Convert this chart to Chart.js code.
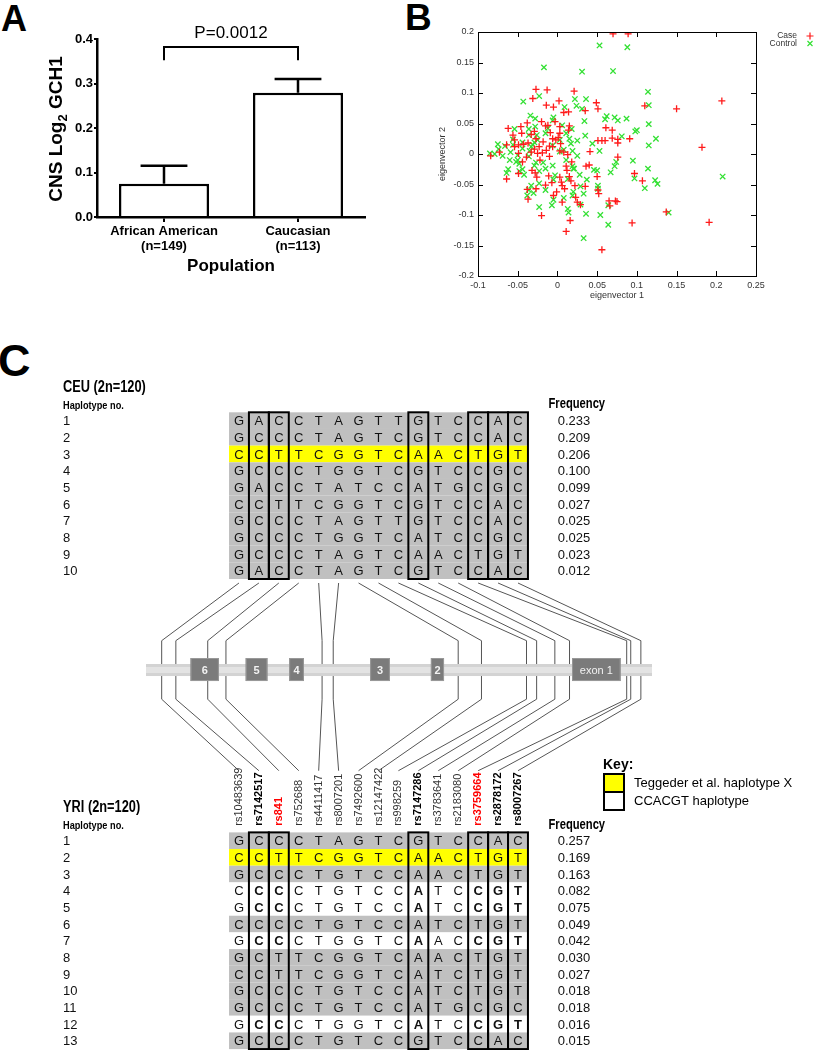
<!DOCTYPE html>
<html>
<head>
<meta charset="utf-8">
<script src="https://cdn.jsdelivr.net/npm/chart.js@4.4.1/dist/chart.umd.min.js"></script>
<style>
  body { margin: 0; background: #fff; width: 815px; height: 1050px; overflow: hidden; position: relative; font-family: "Liberation Sans", Arial, sans-serif; }
  canvas { position: absolute; }
  .panel { position: absolute; font-weight: bold; line-height: 1; color: #000; }
</style>
</head>
<body>
<div class="panel" style="left:1px;top:1px;font-size:36px">A</div>
<div class="panel" style="left:405px;top:-1px;font-size:37px">B</div>
<div class="panel" style="left:-2px;top:338px;font-size:45px">C</div>
<canvas id="chartA" width="400" height="280" style="left:0;top:0"></canvas>
<canvas id="chartB" width="415" height="310" style="left:400px;top:0"></canvas>
<canvas id="chartC" width="815" height="720" style="left:0;top:330px"></canvas>
<script>
// ---------- Panel A data ----------
const popLabels = [['African American', '(n=149)'], ['Caucasian', '(n=113)']];
const gchMean = [0.075, 0.279];
const gchSem = [0.040, 0.031];
const pText = 'P=0.0012';

// ---------- Panel B data (eigenvector 1 / eigenvector 2) ----------
const caseEv1 = [0.070,0.089,0.207,0.150,0.182,0.191,0.137,0.094,0.110,0.091,0.076,0.069,0.069,0.061,0.076,0.076,0.073,0.075,0.065,0.066,
  0.097,0.107,0.052,0.051,0.050,0.035,0.036,0.040,0.041,0.051,0.056,0.060,0.051,0.049,0.035,0.021,0.002,-0.005,-0.014,-0.013,
  -0.027,-0.031,-0.046,-0.038,-0.062,-0.056,-0.020,-0.015,-0.012,-0.003,0.014,0.008,0.015,0.014,0.003,0.003,0.001,-0.002,0.004,0.008,
  0.003,0.013,0.011,0.012,0.003,0.005,0.006,0.009,0.006,0.011,0.016,0.015,0.017,0.022,0.023,0.025,0.029,0.018,-0.001,-0.005,
  -0.007,-0.011,-0.020,-0.015,-0.026,-0.027,-0.038,-0.037,-0.028,-0.032,-0.049,-0.064,-0.084,-0.073,-0.064,-0.054,-0.054,-0.049,-0.049,-0.043,
  -0.037,-0.033,-0.029,-0.027,-0.023,-0.025,-0.033,-0.039,-0.044,-0.019,-0.014,-0.010,-0.006,-0.010,-0.022,-0.018,-0.029,-0.009,-0.006,-0.045,
  0.056];
const caseEv2 = [0.197,0.197,0.087,0.074,0.011,-0.112,-0.095,-0.113,0.079,0.025,0.024,0.026,0.039,0.043,-0.005,0.018,-0.077,-0.078,-0.077,-0.085,
  -0.032,-0.044,-0.065,-0.059,-0.037,-0.053,-0.020,-0.018,0.004,0.022,0.022,0.022,0.074,0.084,0.071,0.103,0.087,0.077,0.080,0.105,
  0.106,0.091,0.045,0.051,0.042,0.031,0.053,0.046,0.047,0.053,0.069,0.068,0.046,0.039,0.045,0.034,0.027,0.023,0.017,0.003,
  0.005,-0.001,-0.020,-0.027,-0.038,-0.046,-0.052,-0.057,-0.079,-0.127,-0.109,-0.037,-0.044,-0.052,-0.071,-0.079,-0.083,-0.013,-0.062,-0.068,
  -0.047,-0.036,-0.101,-0.051,-0.038,-0.057,-0.058,-0.074,-0.031,-0.027,-0.032,-0.041,-0.003,0.003,0.015,0.012,0.023,0.015,0.001,0.016,
  0.018,0.032,0.037,0.025,0.012,0.001,0.003,-0.005,-0.013,0.002,0.006,0.013,0.025,-0.004,-0.010,0.020,0.008,0.035,0.012,0.034,
  -0.157];
const ctrlEv1 = [0.053,0.088,-0.017,0.031,0.070,0.114,0.115,-0.043,-0.023,0.009,0.022,0.024,0.036,0.031,0.034,0.062,0.072,0.076,0.087,0.060,
  0.100,0.098,0.115,0.081,0.124,0.115,0.044,0.035,0.053,0.074,0.072,0.067,0.095,0.097,0.114,0.123,0.126,0.110,0.208,0.140,
  0.064,0.064,0.054,0.051,0.051,0.050,0.046,0.037,0.033,0.036,0.033,0.028,0.029,0.029,0.025,0.025,0.019,0.015,0.017,0.019,
  0.020,0.020,0.019,0.013,0.014,0.013,0.008,-0.005,-0.003,-0.006,-0.005,-0.006,-0.012,-0.006,0.003,0.003,0.008,0.011,0.006,-0.007,
  -0.005,-0.015,-0.023,-0.023,-0.023,-0.033,-0.030,-0.038,-0.036,-0.036,-0.035,-0.033,-0.031,-0.029,-0.025,-0.026,-0.028,-0.036,-0.036,-0.034,
  -0.028,-0.044,-0.044,-0.050,-0.050,-0.052,-0.048,-0.056,-0.056,-0.059,-0.060,-0.064,-0.062,-0.069,-0.075,-0.074,-0.085,-0.079,-0.066,-0.054,
  -0.048,-0.044,-0.042,-0.015,-0.018,-0.015,-0.027,-0.029,0.018,0.011,0.021];
const ctrlEv2 = [0.178,0.175,0.142,0.135,0.136,0.102,0.080,0.086,0.095,0.077,0.090,0.079,0.090,0.074,0.054,0.062,0.060,0.055,0.058,0.057,
  0.039,0.037,0.049,0.029,0.025,0.014,0.017,0.030,0.005,-0.013,-0.020,-0.030,-0.011,-0.040,-0.024,-0.043,-0.049,-0.056,-0.037,-0.096,
  -0.084,-0.116,-0.100,-0.052,-0.057,-0.027,-0.026,-0.042,-0.065,-0.098,-0.138,-0.034,-0.053,-0.083,-0.003,0.022,0.005,0.025,0.017,-0.020,
  -0.024,-0.062,-0.068,-0.090,-0.096,-0.041,-0.072,-0.042,-0.035,-0.019,0.060,0.055,0.042,0.014,0.023,0.004,0.007,-0.010,0.047,-0.084,
  -0.075,-0.059,-0.087,-0.048,-0.028,-0.052,-0.064,-0.068,-0.059,-0.004,0.005,0.012,0.015,0.019,0.023,0.031,0.045,0.041,0.031,0.063,
  0.058,0.019,0.009,-0.002,-0.010,-0.013,-0.016,0.024,0.015,0.003,-0.010,-0.031,-0.025,-0.003,0.016,0.008,0.001,0.000,0.013,0.041,
  -0.028,-0.025,-0.034,0.034,-0.014,-0.024,-0.014,-0.019,0.041,0.034,-0.024];

// ---------- Panel C data ----------
const snpIds = ['rs10483639','rs7142517','rs841','rs752688','rs4411417','rs8007201','rs7492600','rs12147422',
  'rs998259','rs7147286','rs3783641','rs2183080','rs3759664','rs2878172','rs8007267'];
const tagSnps = ['rs7142517','rs841','rs7147286','rs3759664','rs2878172','rs8007267'];
const painSnps = ['rs841','rs3759664'];
// relative position of each SNP along the drawn GCH1 locus (0..100)
const snpGenePos = [3.1, 5.9, 12.2, 15.8, 34.8, 37.0, 61.7, 66.3, 75.2, 77.2, 80.8, 83.7, 95.0, 95.8, 97.8];
const exonNames = ['6', '5', '4', '3', '2', 'exon 1'];
const exonStart = [8.8, 19.7, 28.3, 44.3, 56.3, 84.2];
const exonEnd = [14.4, 24.0, 31.2, 48.2, 58.9, 93.8];

const ceuHaps = ['GACCTAGTTGTCCAC','GCCCTAGTCGTCCAC','CCTTCGGTCAACTGT','GCCCTGGTCGTCCGC','GACCTATCCATGCGC',
  'CCTTCGGTCGTCCAC','GCCCTAGTTGTCCAC','GCCCTGGTCATCCGC','GCCCTAGTCAACTGT','GACCTAGTCGTCCAC'];
const ceuFreq = ['0.233','0.209','0.206','0.100','0.099','0.027','0.025','0.025','0.023','0.012'];
const ceuClass = ['', '', 'X', '', '', '', '', '', '', ''];

const yriHaps = ['GCCCTAGTCGTCCAC','CCTTCGGTCAACTGT','GCCCTGTCCAACTGT','CCCCTGTCCATCCGT','GCCCTGTCCATCCGT',
  'CCCCTGTCCATCTGT','GCCCTGGTCAACCGT','GCTTCGGTCAACTGT','CCTTCGGTCATCTGT','GCCCTGTCCATCTGT',
  'GCCCTGTCCATGCGC','GCCCTGGTCATCCGT','GCCCTGTCCGTCCAC'];
const yriFreq = ['0.257','0.169','0.163','0.082','0.075','0.049','0.042','0.030','0.027','0.018','0.018','0.016','0.015'];
const yriClass = ['', 'X', '', 'CCACGT', 'CCACGT', '', 'CCACGT', '', '', '', '', 'CCACGT', ''];

const FONT = '"Liberation Sans", Arial, sans-serif';

// ---------- Panel A ----------
const panelAPlugin = {
  id: 'panelA',
  afterDraw(chart) {
    const ctx = chart.ctx;
    const y = chart.scales.y;
    const bars = chart.getDatasetMeta(0).data;
    ctx.save();
    ctx.strokeStyle = '#000';
    ctx.lineWidth = 2.5;
    // error bars (upper SEM)
    bars.forEach((b, i) => {
      const y0 = y.getPixelForValue(gchMean[i]);
      const y1 = y.getPixelForValue(gchMean[i] + gchSem[i]);
      const cap = b.width * 0.26;
      ctx.beginPath();
      ctx.moveTo(b.x, y0); ctx.lineTo(b.x, y1);
      ctx.moveTo(b.x - cap, y1); ctx.lineTo(b.x + cap, y1);
      ctx.stroke();
    });
    // significance bracket
    const yb = y.getPixelForValue(0.382), yl = y.getPixelForValue(0.352);
    ctx.lineWidth = 2;
    ctx.beginPath();
    ctx.moveTo(bars[0].x, yl); ctx.lineTo(bars[0].x, yb);
    ctx.lineTo(bars[1].x, yb); ctx.lineTo(bars[1].x, yl);
    ctx.stroke();
    ctx.fillStyle = '#000';
    ctx.font = '17px ' + FONT;
    ctx.textAlign = 'center';
    ctx.textBaseline = 'middle';
    ctx.fillText(pText, (bars[0].x + bars[1].x) / 2, y.getPixelForValue(0.413));
    // x title
    const ca = chart.chartArea;
    ctx.font = 'bold 17px ' + FONT;
    ctx.fillText('Population', (ca.left + ca.right) / 2, 266);
    // y title with subscript
    ctx.translate(62, (ca.top + ca.bottom) / 2 + 1);
    ctx.rotate(-Math.PI / 2);
    ctx.textAlign = 'left';
    ctx.textBaseline = 'alphabetic';
    const big = 'bold 19px ' + FONT, small = 'bold 13px ' + FONT;
    ctx.font = big; const w1 = ctx.measureText('CNS Log').width;
    ctx.font = small; const w2 = ctx.measureText('2').width;
    ctx.font = big; const w3 = ctx.measureText(' GCH1').width;
    let sx = -(w1 + w2 + w3) / 2;
    ctx.fillText('CNS Log', sx, 0); sx += w1;
    ctx.font = small; ctx.fillText('2', sx, 5); sx += w2;
    ctx.font = big; ctx.fillText(' GCH1', sx, 0);
    ctx.restore();
  }
};

new Chart(document.getElementById('chartA'), {
  type: 'bar',
  data: {
    labels: popLabels,
    datasets: [{
      data: gchMean,
      backgroundColor: '#fff',
      borderColor: '#000',
      borderWidth: 2.5,
      barPercentage: 0.672,
      categoryPercentage: 1
    }]
  },
  options: {
    responsive: false,
    animation: false,
    devicePixelRatio: 1,
    events: [],
    layout: { padding: { top: 39, right: 35, left: 0, bottom: 0 } },
    plugins: { legend: { display: false }, tooltip: { enabled: false } },
    scales: {
      x: {
        grid: { offset: false, drawOnChartArea: false, tickLength: 5, color: '#000', lineWidth: 2 },
        border: { color: '#000', width: 2.5 },
        ticks: { color: '#000', font: { family: FONT, size: 13, weight: 'bold', lineHeight: 1.15 }, padding: 2 },
        afterFit: s => { s.height = 63; }
      },
      y: {
        min: 0, max: 0.4,
        grid: { drawOnChartArea: false, tickLength: 3, color: '#000', lineWidth: 2 },
        border: { color: '#000', width: 2.5 },
        ticks: { stepSize: 0.1, color: '#000', padding: 1, font: { family: FONT, size: 13, weight: 'bold' },
                 callback: v => v.toFixed(1) },
        afterFit: s => { s.width = 97; }
      }
    }
  },
  plugins: [panelAPlugin]
});

// ---------- Panel B ----------
const frameBPlugin = {
  id: 'frameB',
  afterDraw(chart) {
    const ctx = chart.ctx, ca = chart.chartArea;
    const xs = chart.scales.x, ys = chart.scales.y;
    ctx.save();
    ctx.strokeStyle = '#000';
    ctx.lineWidth = 1;
    ctx.strokeRect(Math.round(ca.left) + 0.5, Math.round(ca.top) + 0.5, Math.round(ca.right - ca.left), Math.round(ca.bottom - ca.top));
    ctx.beginPath();
    xs.ticks.forEach(t => {
      const px = Math.round(xs.getPixelForValue(t.value)) + 0.5;
      ctx.moveTo(px, ca.top); ctx.lineTo(px, ca.top + 5);
      ctx.moveTo(px, ca.bottom); ctx.lineTo(px, ca.bottom - 5);
    });
    ys.ticks.forEach(t => {
      const py = Math.round(ys.getPixelForValue(t.value)) + 0.5;
      ctx.moveTo(ca.left, py); ctx.lineTo(ca.left + 5, py);
      ctx.moveTo(ca.right, py); ctx.lineTo(ca.right - 5, py);
    });
    ctx.stroke();
    // axis titles
    ctx.fillStyle = '#333';
    ctx.font = '9px ' + FONT;
    ctx.textAlign = 'center';
    ctx.textBaseline = 'middle';
    ctx.fillText('eigenvector 1', (ca.left + ca.right) / 2, 296);
    ctx.save();
    ctx.translate(43, (ca.top + ca.bottom) / 2);
    ctx.rotate(-Math.PI / 2);
    ctx.fillText('eigenvector 2', 0, 0);
    ctx.restore();
    // legend
    ctx.textAlign = 'right';
    ctx.font = '8.5px ' + FONT;
    chart.data.datasets.forEach((ds, i) => {
      const ly = 36 + i * 7.5;
      ctx.fillStyle = '#333';
      ctx.fillText(ds.label, 397, ly);
      ctx.strokeStyle = ds.borderColor;
      ctx.lineWidth = 1.2;
      ctx.beginPath();
      if (ds.pointStyle === 'cross') {
        ctx.moveTo(410, ly - 3.5); ctx.lineTo(410, ly + 3.5);
        ctx.moveTo(406.5, ly); ctx.lineTo(413.5, ly);
      } else {
        ctx.moveTo(407.5, ly - 2.5); ctx.lineTo(412.5, ly + 2.5);
        ctx.moveTo(412.5, ly - 2.5); ctx.lineTo(407.5, ly + 2.5);
      }
      ctx.stroke();
    });
    ctx.restore();
  }
};

const tickFmt = v => String(+v.toFixed(2));
new Chart(document.getElementById('chartB'), {
  type: 'scatter',
  data: {
    datasets: [
      {
        label: 'Case',
        data: caseEv1.map((v, i) => ({ x: v, y: caseEv2[i] })),
        pointStyle: 'cross', pointRadius: 3.5, borderColor: '#ff1a1a', borderWidth: 1.3, backgroundColor: '#ff1a1a'
      },
      {
        label: 'Control',
        data: ctrlEv1.map((v, i) => ({ x: v, y: ctrlEv2[i] })),
        pointStyle: 'crossRot', pointRadius: 3.8, borderColor: '#33e033', borderWidth: 1.3, backgroundColor: '#33e033'
      }
    ]
  },
  options: {
    responsive: false,
    animation: false,
    devicePixelRatio: 1,
    events: [],
    layout: { padding: { top: 32, right: 59, left: 0, bottom: 0 } },
    plugins: { legend: { display: false }, tooltip: { enabled: false } },
    scales: {
      x: {
        min: -0.1, max: 0.25,
        grid: { display: false, tickLength: 0 }, border: { display: false },
        ticks: { stepSize: 0.05, color: '#333', padding: 4, font: { family: FONT, size: 9 }, callback: tickFmt, maxRotation: 0 },
        afterFit: s => { s.height = 34; }
      },
      y: {
        min: -0.2, max: 0.2,
        grid: { display: false, tickLength: 0 }, border: { display: false },
        ticks: { stepSize: 0.05, color: '#333', padding: 4, font: { family: FONT, size: 9 }, callback: tickFmt },
        afterFit: s => { s.width = 78; }
      }
    }
  },
  plugins: [frameBPlugin]
});

// ---------- Panel C ----------
const CEU_TOP = 0, YRI_TOP = 25.2;
const fillFor = c => c === 'X' ? '#ffff00' : (c === 'CCACGT' ? '#ffffff' : '#c0c0c0');

// condensed bold header text (narrow face look)
function narrowText(ctx, text, x, y, size, align) {
  ctx.save();
  ctx.font = 'bold ' + size + 'px ' + FONT;
  const w = ctx.measureText(text).width * 0.8;
  let sx = x;
  if (align === 'center') sx = x - w / 2;
  ctx.translate(sx, y);
  ctx.scale(0.8, 1);
  ctx.textAlign = 'left';
  ctx.fillText(text, 0, 0);
  ctx.restore();
}

function drawHapTable(chart, title, haps, freqs, classes, top) {
  const ctx = chart.ctx, X = chart.scales.x, Y = chart.scales.y;
  const nCol = snpIds.length;
  const x0 = X.getPixelForValue(0), x1 = X.getPixelForValue(nCol);
  // row shading
  haps.forEach((h, r) => {
    const ya = Y.getPixelForValue(top + r), yb = Y.getPixelForValue(top + r + 1);
    ctx.fillStyle = fillFor(classes[r]);
    ctx.fillRect(x0, ya, x1 - x0, yb - ya);
  });
  // letters, numbers, frequencies
  ctx.textBaseline = 'middle';
  haps.forEach((h, r) => {
    const yc = Y.getPixelForValue(top + r + 0.5) + 1;
    ctx.fillStyle = '#111';
    ctx.textAlign = 'center';
    for (let c = 0; c < nCol; c++) {
      const bold = classes[r] === 'CCACGT' && tagSnps.includes(snpIds[c]);
      ctx.font = (bold ? 'bold ' : '') + '13px ' + FONT;
      ctx.fillText(h[c], X.getPixelForValue(c + 0.5), yc);
    }
    ctx.font = '13px ' + FONT;
    ctx.fillText(freqs[r], X.getPixelForValue(17.31), yc);
    ctx.textAlign = 'left';
    ctx.fillText(String(r + 1), X.getPixelForValue(-8.33), yc);
  });
  // boxed tag SNP columns
  ctx.strokeStyle = '#000';
  ctx.lineWidth = 2;
  const ya = Y.getPixelForValue(top), yb = Y.getPixelForValue(top + haps.length);
  snpIds.forEach((id, c) => {
    if (!tagSnps.includes(id)) return;
    const xa = X.getPixelForValue(c), xb = X.getPixelForValue(c + 1);
    ctx.strokeRect(xa, ya, xb - xa, yb - ya);
  });
  // headers
  ctx.fillStyle = '#000';
  ctx.textBaseline = 'middle';
  narrowText(ctx, title, X.getPixelForValue(-8.33), Y.getPixelForValue(top - 1.46), 16, 'left');
  narrowText(ctx, 'Haplotype no.', X.getPixelForValue(-8.33), Y.getPixelForValue(top - 0.38), 11.5, 'left');
  narrowText(ctx, 'Frequency', X.getPixelForValue(17.45), Y.getPixelForValue(top - 0.46), 14, 'center');
}

function drawGene(chart) {
  const ctx = chart.ctx, X = chart.scales.x, G = chart.scales.xg, Y = chart.scales.y;
  // connectors
  ctx.strokeStyle = '#555';
  ctx.lineWidth = 1;
  snpIds.forEach((id, c) => {
    const cx = X.getPixelForValue(c + 0.5), gx = G.getPixelForValue(snpGenePos[c]);
    ctx.beginPath();
    ctx.moveTo(cx, Y.getPixelForValue(10.24));
    ctx.lineTo(gx, Y.getPixelForValue(13.7));
    ctx.lineTo(gx, Y.getPixelForValue(17.21));
    ctx.lineTo(cx, Y.getPixelForValue(21.5));
    ctx.stroke();
  });
  // locus bar
  const b0 = G.getPixelForValue(0), b1 = G.getPixelForValue(100);
  const ya = Y.getPixelForValue(15.1), yb = Y.getPixelForValue(15.82);
  ctx.fillStyle = '#d3d3d3';
  ctx.fillRect(b0, ya, b1 - b0, yb - ya);
  ctx.fillStyle = '#e3e3e3';
  ctx.fillRect(b0, ya + 3, b1 - b0, yb - ya - 6);
  // exons
  const ea = Y.getPixelForValue(14.74), eb = Y.getPixelForValue(16.12);
  ctx.textAlign = 'center';
  ctx.textBaseline = 'middle';
  exonNames.forEach((n, i) => {
    const xa = G.getPixelForValue(exonStart[i]), xb = G.getPixelForValue(exonEnd[i]);
    ctx.fillStyle = '#7b7b7b';
    ctx.fillRect(xa, ea, xb - xa, eb - ea);
    ctx.strokeStyle = '#999';
    ctx.strokeRect(xa + 0.5, ea + 0.5, xb - xa - 1, eb - ea - 1);
    ctx.fillStyle = '#f2f2f2';
    ctx.font = (n.length > 1 ? '' : 'bold ') + '11px ' + FONT;
    ctx.fillText(n, (xa + xb) / 2, (ea + eb) / 2 + 1);
  });
  // SNP labels
  snpIds.forEach((id, c) => {
    ctx.save();
    ctx.translate(X.getPixelForValue(c + 0.5), Y.getPixelForValue(24.8));
    ctx.rotate(-Math.PI / 2);
    ctx.textAlign = 'left';
    ctx.textBaseline = 'middle';
    const tag = tagSnps.includes(id);
    ctx.font = (tag ? 'bold ' : '') + '11px ' + FONT;
    ctx.fillStyle = painSnps.includes(id) ? '#ff0000' : (tag ? '#000' : '#333');
    ctx.fillText(id, 0, 0);
    ctx.restore();
  });
}

function drawKey(chart) {
  const ctx = chart.ctx;
  ctx.fillStyle = '#000';
  ctx.textAlign = 'left';
  ctx.textBaseline = 'middle';
  ctx.font = 'bold 14px ' + FONT;
  ctx.fillText('Key:', 603, 435);
  const items = [['#ffff00', 'Teggeder et al. haplotype X'], ['#ffffff', 'CCACGT haplotype']];
  items.forEach((it, i) => {
    const y0 = 444 + i * 18;
    ctx.fillStyle = it[0];
    ctx.fillRect(604, y0, 20, 18);
    ctx.strokeStyle = '#000';
    ctx.lineWidth = 2;
    ctx.strokeRect(604, y0, 20, 18);
    ctx.fillStyle = '#000';
    ctx.font = '13px ' + FONT;
    ctx.fillText(it[1], 634, y0 + 9.5);
  });
}

const panelCPlugin = {
  id: 'panelC',
  afterDraw(chart) {
    const ctx = chart.ctx;
    ctx.save();
    drawGene(chart);
    drawHapTable(chart, 'CEU (2n=120)', ceuHaps, ceuFreq, ceuClass, CEU_TOP);
    drawHapTable(chart, 'YRI (2n=120)', yriHaps, yriFreq, yriClass, YRI_TOP);
    drawKey(chart);
    ctx.restore();
  }
};

new Chart(document.getElementById('chartC'), {
  type: 'scatter',
  data: { datasets: [{ data: [] }] },
  options: {
    responsive: false,
    animation: false,
    devicePixelRatio: 1,
    events: [],
    layout: { padding: 0 },
    plugins: { legend: { display: false }, tooltip: { enabled: false } },
    scales: {
      x: { type: 'linear', display: false, min: -229 / 19.93, max: (815 - 229) / 19.93 },
      xg: { type: 'linear', axis: 'x', display: false, min: -146 / 5.06, max: (815 - 146) / 5.06 },
      y: { type: 'linear', display: false, reverse: true, min: -82.3 / 16.67, max: (720 - 82.3) / 16.67 }
    }
  },
  plugins: [panelCPlugin]
});
</script>
</body>
</html>
